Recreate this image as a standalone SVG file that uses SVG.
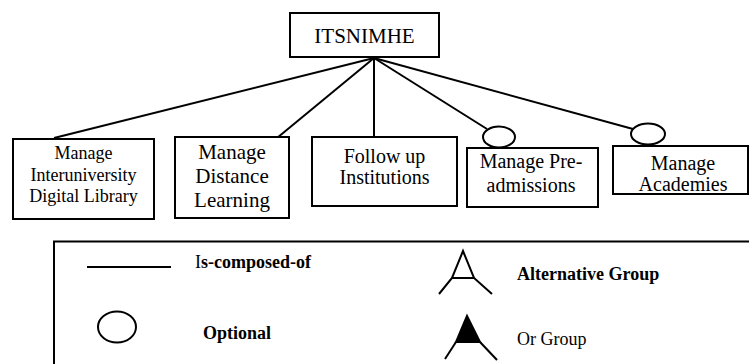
<svg xmlns="http://www.w3.org/2000/svg" width="749" height="364" viewBox="0 0 749 364">
<style>
.box{fill:#fff;stroke:#000;stroke-width:2}
.ln{fill:none;stroke:#000;stroke-width:2}
.t{font-family:"Liberation Serif","Times New Roman",serif;fill:#000;text-anchor:middle}
.lg{font-family:"Liberation Serif","Times New Roman",serif;fill:#000;font-size:18px}
</style>
<rect width="749" height="364" fill="#fff"/>
<g id="connectors">
<line class="ln" x1="374" y1="58" x2="54" y2="138"/>
<line class="ln" x1="374" y1="58" x2="277" y2="138"/>
<line class="ln" x1="374" y1="58" x2="374" y2="137"/>
<line class="ln" x1="374" y1="58" x2="487" y2="129"/>
<line class="ln" x1="374" y1="58" x2="633" y2="129"/>
</g>
<g id="root">
<rect class="box" x="290" y="13" width="149" height="44"/>
<text class="t" x="364.5" y="43" font-size="21">ITSNIMHE</text>
</g>
<g id="n1">
<rect class="box" x="13" y="139" width="141" height="80"/>
<text class="t" x="83.5" y="159" font-size="18">Manage</text>
<text class="t" x="83.5" y="181" font-size="18">Interuniversity</text>
<text class="t" x="83.5" y="202" font-size="18">Digital Library</text>
</g>
<g id="n2">
<rect class="box" x="175" y="137" width="114" height="81"/>
<text class="t" x="232" y="159" font-size="21">Manage</text>
<text class="t" x="232" y="183" font-size="21">Distance</text>
<text class="t" x="232" y="207" font-size="21">Learning</text>
</g>
<g id="n3">
<rect class="box" x="312" y="137" width="145" height="69"/>
<text class="t" x="384.5" y="163" font-size="20">Follow up</text>
<text class="t" x="384.5" y="184" font-size="20">Institutions</text>
</g>
<g id="n4">
<ellipse class="ln" cx="499" cy="137" rx="16" ry="10.5" fill="#fff"/>
<rect class="box" x="467" y="148" width="131" height="59"/>
<text class="t" x="531" y="168" font-size="20">Manage Pre-</text>
<text class="t" x="531" y="192" font-size="20">admissions</text>
</g>
<g id="n5">
<ellipse class="ln" cx="648" cy="134" rx="17" ry="10.5" fill="#fff"/>
<rect class="box" x="613" y="146" width="135" height="48"/>
<text class="t" x="683" y="170" font-size="20">Manage</text>
<text class="t" x="683" y="191" font-size="20">Academies</text>
</g>
<g id="legend">
<path class="ln" d="M54,364 V241.5 H749"/>
<line class="ln" x1="87" y1="267" x2="171" y2="267"/>
<text class="lg" x="195" y="268"><tspan>I</tspan><tspan font-weight="bold">s-composed-of</tspan></text>
<ellipse class="ln" cx="117" cy="327" rx="19" ry="15.5"/>
<text class="lg" x="203" y="339" font-weight="bold">Optional</text>
<polyline class="ln" points="439,294 452,278 463,251 474,278 492,294"/>
<line class="ln" x1="452" y1="278" x2="474" y2="278"/>
<text class="lg" x="517" y="280" font-weight="bold">Alternative Group</text>
<polygon points="467,316 456,342 480,342" fill="#000" stroke="#000" stroke-width="2"/>
<line class="ln" x1="456" y1="342" x2="445" y2="359"/>
<line class="ln" x1="480" y1="342" x2="497" y2="360"/>
<text class="lg" x="517" y="345">Or Group</text>
</g>
</svg>
